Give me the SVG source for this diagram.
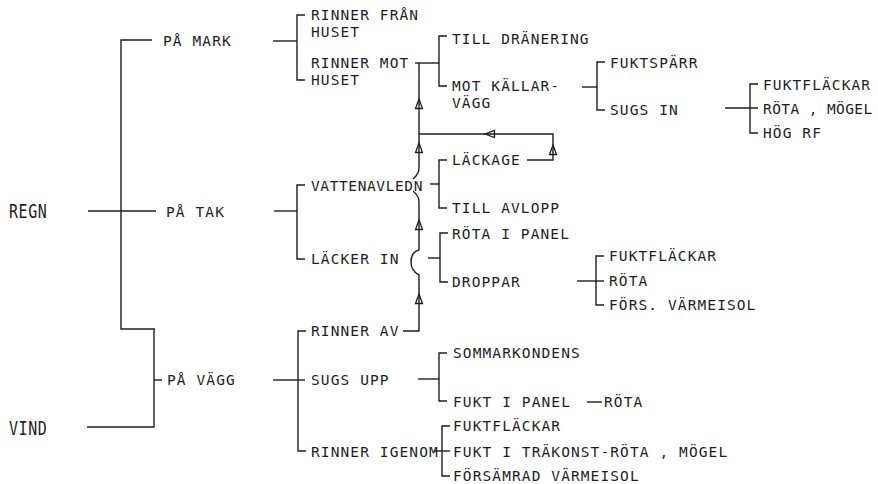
<svg xmlns="http://www.w3.org/2000/svg" xmlns:xlink="http://www.w3.org/1999/xlink" width="878" height="484" viewBox="0 0 878 484">
<style>
text{font-family:"DejaVu Sans Mono","Liberation Mono",monospace;font-size:14.5px;letter-spacing:1.1px;fill:#1e1e1e}
text.big{font-size:15px;letter-spacing:0.6px}
#connectors path,#connectors line{stroke:#1e1e1e;stroke-width:1.4;fill:none}
.arr{stroke:#1e1e1e;stroke-width:1.3;fill:none}
</style>
<defs>
<path id="au" class="arr" d="M0,-5 L-3.5,4.5 L3.5,4.5 Z"/>
</defs>
<rect width="878" height="484" fill="#fff"/>
<g id="connectors">
<path d="M152,40 H121 V329 H155"/>
<line x1="88" y1="211" x2="156" y2="211"/>
<path d="M154,329 V427 H87"/>
<line x1="154" y1="380" x2="162" y2="380"/>
<line x1="273" y1="41" x2="297" y2="41"/>
<path d="M305,15 H297 V80 H305"/>
<line x1="274" y1="211" x2="297" y2="211"/>
<path d="M305,185 H297 V259 H305"/>
<line x1="273" y1="380" x2="305" y2="380"/>
<path d="M306,331 H298 V451 H306"/>
<line x1="415" y1="63" x2="439" y2="63"/>
<path d="M447,36 H439 V86 H447"/>
<line x1="582" y1="87" x2="597" y2="87"/>
<path d="M605,62 H597 V110 H605"/>
<line x1="725" y1="108" x2="758" y2="108"/>
<path d="M758,84 H750 V133 H758"/>
<line x1="430" y1="184" x2="439" y2="184"/>
<path d="M447,160 H439 V208 H447"/>
<path d="M527,160 H553 V134 H419"/>
<path d="M419,63 V168 Q419,174 413,179"/>
<path d="M413,191 Q419,196 419,202 V250 Q411,252 411,262 Q411,271 419,275 V331 H403"/>
<line x1="428" y1="258" x2="440" y2="258"/>
<path d="M448,233 H440 V282 H448"/>
<line x1="577" y1="281" x2="604" y2="281"/>
<path d="M604,256 H596 V305 H604"/>
<line x1="418" y1="379" x2="439" y2="379"/>
<path d="M447,353 H439 V401 H447"/>
<line x1="587" y1="402" x2="602" y2="402"/>
<line x1="434" y1="451" x2="450" y2="451"/>
<path d="M450,426 H442 V476 H450"/>
<use xlink:href="#au" x="419" y="104"/>
<use xlink:href="#au" x="419" y="148"/>
<use xlink:href="#au" x="419" y="225"/>
<use xlink:href="#au" x="419" y="299"/>
<use xlink:href="#au" x="553" y="150"/>
<use xlink:href="#au" transform="translate(490,134) rotate(-90)"/>
</g>
<g id="n-regn"><text class="big" transform="translate(9,218) scale(1,1.3)">REGN</text></g>
<g id="n-vind"><text class="big" transform="translate(9,435) scale(1,1.3)">VIND</text></g>
<g id="n-pamark"><text x="163" y="46">PÅ MARK</text></g>
<g id="n-patak"><text x="166" y="217">PÅ TAK</text></g>
<g id="n-pavagg"><text x="167" y="385">PÅ VÄGG</text></g>
<g id="n-rinnerfran"><text x="311" y="20">RINNER FRÅN</text><text x="311" y="37">HUSET</text></g>
<g id="n-rinnermot"><text x="311" y="68">RINNER MOT</text><text x="311" y="85">HUSET</text></g>
<g id="n-tilldranering"><text x="452" y="44">TILL DRÄNERING</text></g>
<g id="n-motkallarvagg"><text x="452" y="91">MOT KÄLLAR-</text><text x="452" y="108">VÄGG</text></g>
<g id="n-fuktsparr"><text x="610" y="68">FUKTSPÄRR</text></g>
<g id="n-sugsin"><text x="610" y="115">SUGS IN</text></g>
<g id="n-fuktflackar1"><text x="763" y="90">FUKTFLÄCKAR</text></g>
<g id="n-rotamogel1"><text x="763" y="114" style="letter-spacing:0.4px">RÖTA , MÖGEL</text></g>
<g id="n-hogrf"><text x="763" y="138">HÖG RF</text></g>
<g id="n-lackage"><text x="452" y="165">LÄCKAGE</text></g>
<g id="n-vattenavledn"><text x="311" y="191" style="letter-spacing:0.6px">VATTENAVLEDN</text></g>
<g id="n-tillavlopp"><text x="452" y="213">TILL AVLOPP</text></g>
<g id="n-rotaipanel"><text x="452" y="239">RÖTA I PANEL</text></g>
<g id="n-lackerin"><text x="311" y="264">LÄCKER IN</text></g>
<g id="n-droppar"><text x="452" y="287">DROPPAR</text></g>
<g id="n-fuktflackar2"><text x="609" y="261">FUKTFLÄCKAR</text></g>
<g id="n-rota2"><text x="609" y="286">RÖTA</text></g>
<g id="n-forsvarmeisol"><text x="609" y="310">FÖRS. VÄRMEISOL</text></g>
<g id="n-rinnerav"><text x="311" y="336">RINNER AV</text></g>
<g id="n-sugsupp"><text x="311" y="385">SUGS UPP</text></g>
<g id="n-rinnerigenom"><text x="311" y="457">RINNER IGENOM</text></g>
<g id="n-sommarkondens"><text x="453" y="358">SOMMARKONDENS</text></g>
<g id="n-fuktipanel"><text x="453" y="407">FUKT I PANEL</text></g>
<g id="n-rota3"><text x="604" y="407">RÖTA</text></g>
<g id="n-fuktflackar3"><text x="453" y="431">FUKTFLÄCKAR</text></g>
<g id="n-fuktitrakonst"><text x="453" y="457">FUKT I TRÄKONST-RÖTA , MÖGEL</text></g>
<g id="n-forsamrad"><text x="453" y="481">FÖRSÄMRAD VÄRMEISOL</text></g>
</svg>
